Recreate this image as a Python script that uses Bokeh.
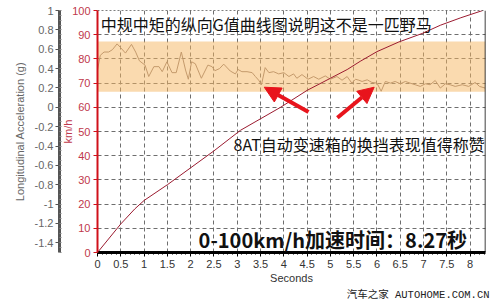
import math
from bokeh.plotting import figure
from bokeh.models import (Range1d, LinearAxis, FixedTicker, CustomJSTickFormatter,
                          BoxAnnotation, Label, Arrow, NormalHead, Span, Title)
from bokeh.embed import file_html
from bokeh.resources import INLINE

# ---- data ----
second_ticks = [0, 0.5, 1, 1.5, 2, 2.5, 3, 3.5, 4, 4.5, 5, 5.5, 6, 6.5, 7, 7.5, 8]
speed_ticks = [0, 10, 20, 30, 40, 50, 60, 70, 80, 90, 100]
g_ticks = [-1.4, -1.2, -1.0, -0.8, -0.6, -0.4, -0.2, 0, 0.2, 0.4, 0.6, 0.8, 1.0]

# longitudinal acceleration (g)
g_time = [0.00, 0.06, 0.14, 0.24, 0.32, 0.42, 0.49, 0.60, 0.73, 0.82, 0.90, 1.02, 1.10,
          1.21, 1.32, 1.39, 1.49, 1.60, 1.69, 1.80, 1.89, 1.95, 2.02, 2.10, 2.23, 2.37,
          2.46, 2.52, 2.62, 2.71, 2.85, 2.96, 3.02, 3.10, 3.21, 3.32, 3.39, 3.46, 3.52,
          3.60, 3.68, 3.78, 3.89, 4.00, 4.11, 4.21, 4.28, 4.39, 4.52, 4.64, 4.75, 4.89,
          5.00, 5.14, 5.25, 5.36, 5.46, 5.54, 5.61, 5.68, 5.79, 5.89, 6.00, 6.09, 6.18,
          6.29, 6.39, 6.50, 6.61, 6.71, 6.82, 6.93, 7.04, 7.14, 7.25, 7.36, 7.47, 7.57,
          7.68, 7.83, 7.97, 8.11, 8.20, 8.32]
g_value = [0.385, 0.537, 0.571, 0.571, 0.595, 0.655, 0.620, 0.560, 0.650, 0.570, 0.480,
           0.436, 0.318, 0.420, 0.420, 0.368, 0.470, 0.358, 0.358, 0.571, 0.385, 0.290,
           0.470, 0.450, 0.300, 0.436, 0.420, 0.378, 0.400, 0.446, 0.375, 0.345, 0.390,
           0.368, 0.368, 0.358, 0.318, 0.280, 0.233, 0.410, 0.358, 0.368, 0.345, 0.358,
           0.318, 0.345, 0.300, 0.338, 0.290, 0.318, 0.290, 0.324, 0.290, 0.318, 0.280,
           0.318, 0.250, 0.290, 0.280, 0.267, 0.284, 0.257, 0.250, 0.166, 0.267, 0.250,
           0.267, 0.243, 0.267, 0.250, 0.233, 0.216, 0.243, 0.233, 0.277, 0.199, 0.243,
           0.233, 0.216, 0.233, 0.216, 0.257, 0.216, 0.199]

# speed (km/h)
speed_time = [0, 0.5, 0.8, 1.0, 1.5, 2.0, 2.5, 3.07, 3.93, 4.5, 5.0, 5.36, 5.64, 6.0,
              6.47, 6.97, 7.36, 7.8, 8.27]
speed_kmh = [0, 11.8, 18, 21.5, 28, 35, 42, 50.5, 60, 67, 72, 75.6, 79, 83, 87, 90.5,
             93.9, 97, 100]

# highlighted g band
band_low, band_high = 0.16, 0.68

RED_AX = "#D0101A"
RED_TXT = "#C0384B"
GRAY = "#666666"

p = figure(width=500, height=300, output_backend="svg", toolbar_location=None,
           x_range=Range1d(0, 8.33), y_range=Range1d(0, 100),
           min_border_left=97, min_border_right=15, min_border_top=10,
           min_border_bottom=44)
p.extra_y_ranges = {"g": Range1d(-1.5, 1.0)}
p.outline_line_color = None
p.background_fill_color = "white"
p.border_fill_color = "white"

fmt = CustomJSTickFormatter(code="return String(Number(tick.toFixed(1)));")

# x axis
xa = p.xaxis[0]
xa.ticker = FixedTicker(ticks=second_ticks,
                        minor_ticks=[round(i * 0.1, 1) for i in range(84)])
xa.formatter = fmt
xa.axis_label = "Seconds"
xa.axis_label_text_font = "Liberation Sans"
xa.axis_label_text_font_style = "normal"
xa.axis_label_text_font_size = "11px"
xa.axis_label_text_color = "#333333"
xa.axis_label_standoff = 1
xa.major_label_text_font = "Liberation Sans"
xa.major_label_text_font_size = "11px"
xa.major_label_text_color = "#333333"
xa.major_label_standoff = 3
xa.axis_line_color = "black"
xa.axis_line_width = 3
xa.major_tick_line_color = "black"
xa.major_tick_out = 4
xa.major_tick_in = 0
xa.minor_tick_line_color = "black"
xa.minor_tick_out = 2
xa.minor_tick_in = 0

# km/h axis (inner left)
ya = p.yaxis[0]
ya.ticker = FixedTicker(ticks=speed_ticks)
ya.axis_label = "km/h"
ya.axis_label_text_font = "Liberation Sans"
ya.axis_label_text_font_style = "normal"
ya.axis_label_text_font_size = "11px"
ya.axis_label_text_color = RED_TXT
ya.axis_label_standoff = -5
ya.major_label_text_font = "Liberation Sans"
ya.major_label_text_font_size = "11px"
ya.major_label_text_color = RED_TXT
ya.major_label_standoff = 3
ya.axis_line_color = RED_AX
ya.axis_line_width = 2
ya.major_tick_line_color = RED_AX
ya.major_tick_out = 4
ya.major_tick_in = 0
ya.minor_tick_line_color = None

# g axis (outer left)
ga = LinearAxis(y_range_name="g",
                ticker=FixedTicker(ticks=g_ticks,
                                   minor_ticks=[round(-1.5 + i * 0.05, 2) for i in range(51)]),
                formatter=fmt)
ga.axis_label = "Longitudinal Acceleration (g)"
ga.axis_label_text_font = "Liberation Sans"
ga.axis_label_text_font_style = "normal"
ga.axis_label_text_font_size = "11px"
ga.axis_label_text_color = GRAY
ga.axis_label_standoff = 6
ga.major_label_text_font = "Liberation Sans"
ga.major_label_text_font_size = "11px"
ga.major_label_text_color = GRAY
ga.major_label_standoff = 2
ga.axis_line_color = "#555555"
ga.axis_line_width = 3
ga.major_tick_line_color = "#555555"
ga.major_tick_out = 4
ga.major_tick_in = 0
ga.minor_tick_line_color = "#888888"
ga.minor_tick_in = 2
ga.minor_tick_out = 0
p.add_layout(ga, "left")

# grid
p.xgrid.ticker = FixedTicker(ticks=second_ticks)
p.ygrid.ticker = FixedTicker(ticks=speed_ticks)
for g in (p.xgrid[0], p.ygrid[0]):
    g.grid_line_color = "#6e6e6e"
    g.grid_line_dash = "4 3"
    g.grid_line_width = 1

# band
p.add_layout(BoxAnnotation(bottom=band_low, top=band_high, y_range_name="g",
                           fill_color="#F5B55F", fill_alpha=0.5, line_color=None,
                           level="underlay"))

# frame edges
p.add_layout(Span(location=100, dimension="width", line_color="black",
                  line_width=1, line_dash="2 2"))
p.add_layout(Span(location=8.33, dimension="height", line_color="black",
                  line_width=1.5))

# curves
p.line(g_time, g_value, y_range_name="g", line_color="#C49A6C", line_width=1)
p.line(speed_time, speed_kmh, line_color="#9B1B30", line_width=1)

# arrows
ARROW = "#E8141C"
for xs, ys, xe, ye in [(4.53, 58.1, 3.58, 68.3), (5.15, 55.7, 5.94, 68.3)]:
    p.add_layout(Arrow(x_start=xs, y_start=ys, x_end=xe, y_end=ye,
                       line_color=ARROW, line_width=4,
                       end=NormalHead(size=16, fill_color=ARROW, line_color=ARROW)))

CJK = "Noto Sans CJK SC"
p.add_layout(Label(x=0.07, y=94.5, text="中规中矩的纵向G值曲线图说明这不是一匹野马",
                   text_font=CJK, text_font_size="16px", text_baseline="middle",
                   text_color="#111111"))
p.add_layout(Label(x=2.92, y=44.7, text="8AT自动变速箱的换挡表现值得称赞",
                   text_font=CJK, text_font_size="16px", text_baseline="middle",
                   text_color="#111111"))
p.add_layout(Label(x=2.17, y=5.3, text="0-100km/h加速时间：8.27秒",
                   text_font=CJK, text_font_size="20px", text_font_style="bold",
                   text_baseline="middle", text_color="#111111"))

# watermark below the axis
p.add_layout(Title(text="汽车之家 AUTOHOME.COM.CN", align="right", standoff=0,
                   offset=-4, text_font="Liberation Mono, Noto Sans CJK SC",
                   text_font_size="10.5px", text_font_style="normal",
                   text_color="#222222"), "below")

open("out.html", "w").write(file_html(p, INLINE))
